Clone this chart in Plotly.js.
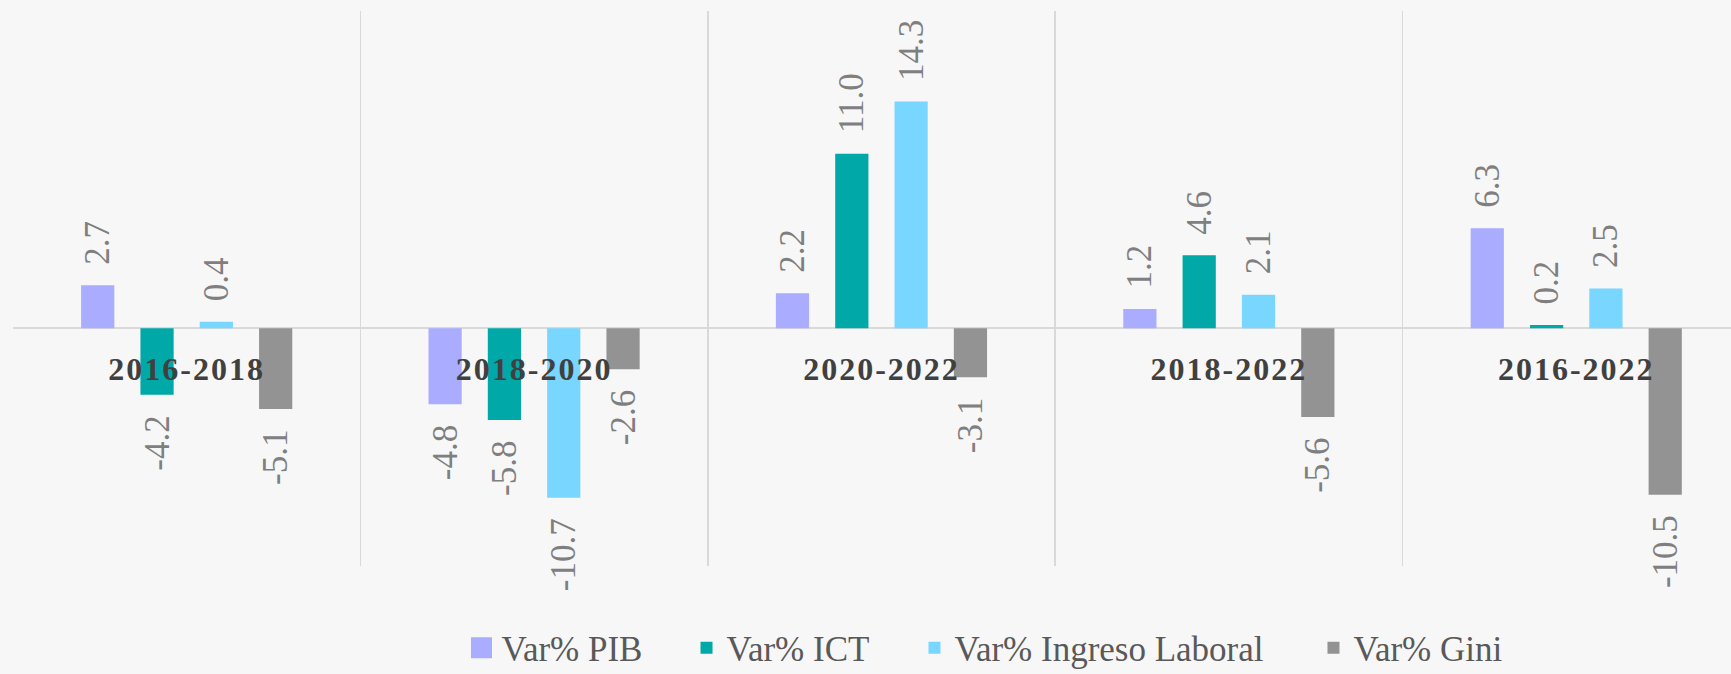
<!DOCTYPE html>
<html><head><meta charset="utf-8">
<script src="https://cdn.plot.ly/plotly-3.0.1.min.js"></script>
<style>
html,body{margin:0;padding:0;background:#f7f7f7;overflow:hidden}
#chart{width:1731px;height:674px}
.legend .legendpoints path{transform:translate(20px,0) scale(1.75)}
.xtick text{letter-spacing:2px}
</style></head><body><div id="chart"></div>
<script>
const periods = ['2016-2018','2018-2020','2020-2022','2018-2022','2016-2022'];
const seriesNames = ['Var% PIB','Var% ICT','Var% Ingreso Laboral','Var% Gini'];
const varPIB = [2.7,-4.8,2.2,1.2,6.3];
const varICT = [-4.2,-5.8,11.0,4.6,0.2];
const varIngreso = [0.4,-10.7,14.3,2.1,2.5];
const varGini = [-5.1,-2.6,-3.1,-5.6,-10.5];

const seriesValues = [varPIB, varICT, varIngreso, varGini];
const colors = ['#AAADFF','#00A8A8','#78D6FF','#939393'];
const legendIds = ['legend','legend2','legend3','legend4'];
const serif = "Liberation Serif, Times New Roman, serif";
const pad = '\u00a0\u00a0';
const labelOf = v => v >= 0 ? pad + v.toFixed(1) : v.toFixed(1) + pad;

const traces = seriesValues.map((vals, i) => ({
  type: 'bar',
  name: seriesNames[i],
  x: periods,
  y: vals,
  text: vals.map(labelOf),
  textposition: 'outside',
  textangle: -90,
  constraintext: 'none',
  cliponaxis: false,
  textfont: {family: serif, size: 35, color: '#7f7f7f'},
  outsidetextfont: {family: serif, size: 35, color: '#7f7f7f'},
  marker: {color: colors[i]},
  legend: legendIds[i],
  hoverinfo: 'skip'
}));

const legendBase = {
  xref: 'container', yref: 'container', xanchor: 'left', yanchor: 'middle',
  y: 0.0386, orientation: 'h', bgcolor: 'rgba(0,0,0,0)',
  font: {family: serif, size: 35, color: '#595959'}
};
const legendXs = [0.2666, 0.3966, 0.5283, 0.7588];

const layout = {
  width: 1731, height: 674,
  font: {family: serif, color: '#595959'},
  paper_bgcolor: '#f7f7f7', plot_bgcolor: '#f7f7f7',
  margin: {l: 13, r: 0, t: 11, b: 108, autoexpand: false},
  barmode: 'group', bargap: 0.317, bargroupgap: 0.44,
  showlegend: true,
  xaxis: {
    type: 'category', range: [-0.5, 4.4455], tickson: 'boundaries',
    showgrid: true, gridcolor: '#d9d9d9', gridwidth: 1.5,
    ticks: '', showline: false, anchor: 'free', position: 15/35,
    ticklabelstandoff: 19,
    tickfont: {family: serif, size: 32, color: '#404040', weight: 700}
  },
  yaxis: {
    range: [-15, 20], showgrid: false, zeroline: true,
    zerolinecolor: '#d9d9d9', zerolinewidth: 1.5,
    showticklabels: false, ticks: ''
  }
};
legendIds.forEach((id, i) => { layout[id] = Object.assign({}, legendBase, {x: legendXs[i]}); });

Plotly.newPlot('chart', traces, layout, {displayModeBar: false, staticPlot: true});
</script></body></html>
